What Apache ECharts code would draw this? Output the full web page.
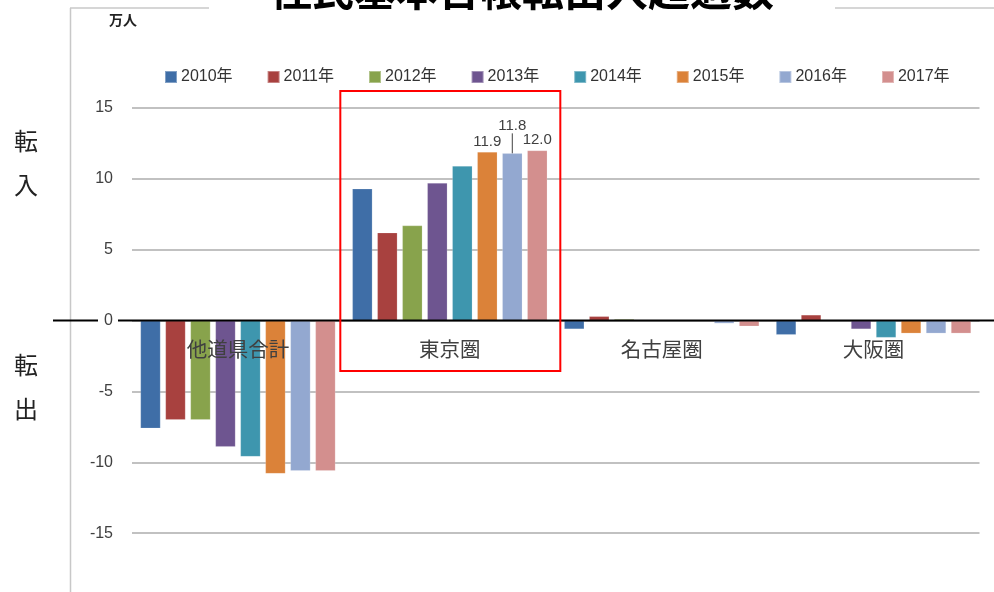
<!DOCTYPE html>
<html><head><meta charset="utf-8">
<script src="https://cdn.jsdelivr.net/npm/echarts@6/dist/echarts.min.js"></script>
<style>html,body{margin:0;padding:0;background:#fff;overflow:hidden}#wrap{width:994px;height:592px;overflow:hidden;position:relative}#c{width:994px;height:604px}</style>
</head><body><div id="wrap"><div id="c"></div></div>
<script>
const categories = ['他道県合計', '東京圏', '名古屋圏', '大阪圏'];
const years = ['2010年', '2011年', '2012年', '2013年', '2014年', '2015年', '2016年', '2017年'];
const v2010 = [-7.6, 9.3, -0.6, -1.0];
const v2011 = [-7.0, 6.2, 0.3, 0.4];
const v2012 = [-7.0, 6.7, 0.1, 0.0];
const v2013 = [-8.9, 9.7, 0.0, -0.6];
const v2014 = [-9.6, 10.9, 0.0, -1.2];
const v2015 = [-10.8, 11.9, 0.0, -0.9];
const v2016 = [-10.6, 11.8, -0.2, -0.9];
const v2017 = [-10.6, 12.0, -0.4, -0.9];
const yTicks = { min: -20, max: 15, interval: 5 };
const titleText = '住民基本台帳転出入超過数';
const unitText = '万人';

const values = [v2010, v2011, v2012, v2013, v2014, v2015, v2016, v2017];
const colors = ['#3F6EA7', '#A8413F', '#88A34C', '#6E5590', '#3E96AE', '#DB8239', '#93A8D0', '#D38F8E'];
const FONT = '"Liberation Sans", "Noto Sans CJK JP", sans-serif';
const CJK = '"Noto Sans CJK JP", sans-serif';

const lbl = { show: true, position: 'top', distance: 3, color: '#404040', fontSize: 15, fontFamily: FONT, formatter: p => p.value.toFixed(1) };
const series = values.map((arr, i) => {
  const s = {
    name: years[i],
    type: 'bar',
    barGap: '25%',
    barCategoryGap: '8%',
    itemStyle: { color: colors[i], borderColor: 'rgba(255,255,255,0.35)', borderWidth: 0.5 },
    data: arr.map((v, j) => {
      const d = { value: v };
      if (j === 1 && (i === 5 || i === 6 || i === 7)) d.label = lbl;
      return d;
    })
  };
  if (i === 6) {
    s.labelLayout = p => (p.dataIndex === 1 ? { dy: -17 } : {});
    s.labelLine = { show: true, length2: 0, lineStyle: { color: '#404040', width: 1 } };
  }
  return s;
});

const chart = echarts.init(document.getElementById('c'), null, { renderer: 'canvas', width: 994, height: 604 });
chart.setOption({
  animation: false,
  backgroundColor: '#fff',
  color: colors,
  legend: {
    data: years, left: 159, top: 64, itemWidth: 12, itemHeight: 12, itemGap: 34, width: 831,
    icon: 'rect',
    textStyle: { fontSize: 16, color: '#333', fontFamily: FONT, padding: [0, 0, 0, -1] }
  },
  grid: { left: 132, right: 14.5, top: 108, bottom: 0, containLabel: false, outerBoundsMode: 'none' },
  xAxis: {
    type: 'category', data: categories, z: 3, position: 'bottom',
    axisLine: { show: false, onZero: false },
    axisTick: { show: false },
    axisLabel: { fontSize: 20.5, color: '#404040', margin: 18, fontFamily: CJK }
  },
  yAxis: {
    type: 'value', min: yTicks.min, max: yTicks.max, interval: yTicks.interval,
    axisLine: { show: false }, axisTick: { show: false },
    splitLine: { lineStyle: { color: '#ADADAD', width: 1.5 } },
    axisLabel: { fontSize: 16, color: '#404040', margin: 19, fontFamily: FONT,
      formatter: v => (v <= -20 ? '' : String(v)) }
  },
  series: series
});

const y0 = chart.convertToPixel({ yAxisIndex: 0 }, 0);
const yBottom = chart.convertToPixel({ yAxisIndex: 0 }, yTicks.min);
chart.setOption({ xAxis: { offset: -(yBottom - y0) } });
const y0b = chart.convertToPixel({ yAxisIndex: 0 }, 0);
const xTokyo = chart.convertToPixel({ xAxisIndex: 0 }, 1);
const boxTop = chart.convertToPixel({ yAxisIndex: 0 }, 16.2);
const boxBot = chart.convertToPixel({ yAxisIndex: 0 }, -3.55);
const seg = (x1, x2, y, c, w) => ({ type: 'line', silent: true, z: 10, shape: { x1, y1: y, x2, y2: y }, style: { stroke: c, lineWidth: w } });
const txt = (t, x, y, font) => ({ type: 'text', silent: true, z: 10, x, y, style: { text: t, font, fill: '#222', textAlign: 'center', textVerticalAlign: 'middle' } });
chart.setOption({
  graphic: [
    { type: 'line', silent: true, z: 10, shape: { x1: 70.5, y1: 8, x2: 70.5, y2: 604 }, style: { stroke: '#C8C8C8', lineWidth: 1.5 } },
    seg(70, 209, 8, '#C8C8C8', 1.5),
    seg(835, 994, 8, '#C8C8C8', 1.5),
    seg(53, 98, y0b, '#000', 2),
    seg(118, 994, y0b, '#000', 2),
    { type: 'rect', silent: true, z: 10, shape: { x: xTokyo - 109.5, y: boxTop, width: 220, height: boxBot - boxTop }, style: { fill: 'none', stroke: '#FF0000', lineWidth: 2 } },
    { type: 'text', silent: true, z: 10, x: 522, y: 11, style: { text: titleText, font: 'bold 42px "Noto Sans CJK JP", sans-serif', fill: '#000', textAlign: 'center', textVerticalAlign: 'bottom' } },
    { type: 'text', silent: true, z: 10, x: 109, y: 20, style: { text: unitText, font: 'bold 14px "Noto Sans CJK JP", sans-serif', fill: '#222', textAlign: 'left', textVerticalAlign: 'middle' } },
    txt('転', 26, 141, '24px ' + CJK),
    txt('入', 26, 185, '24px ' + CJK),
    txt('転', 26, 365, '24px ' + CJK),
    txt('出', 26, 409, '24px ' + CJK)
  ]
});
</script></body></html>
